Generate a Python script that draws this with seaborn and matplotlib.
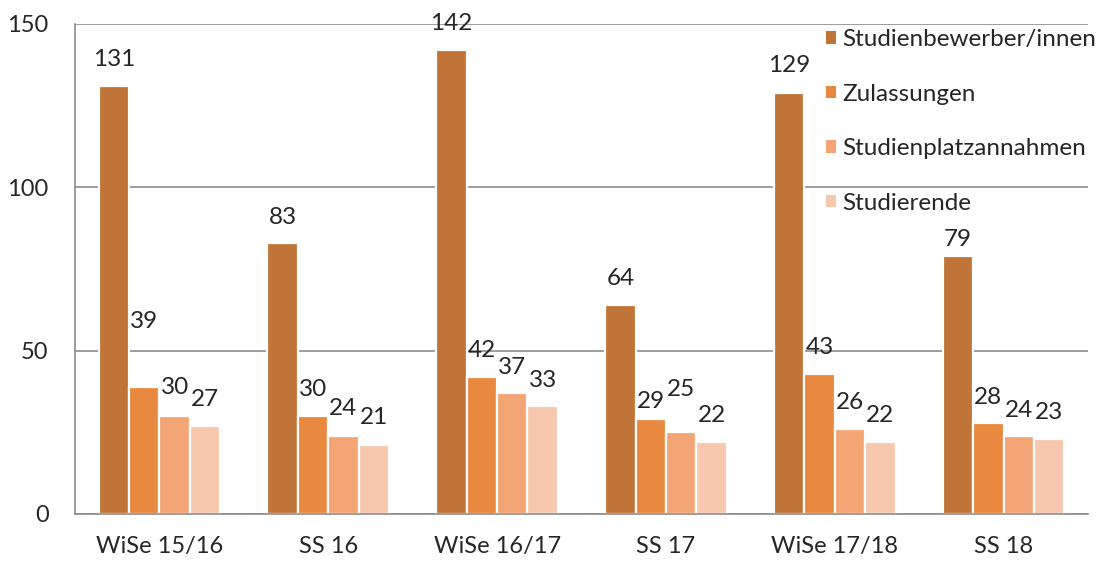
import numpy as np
import pandas as pd
import matplotlib
matplotlib.use("Agg")
import matplotlib.pyplot as plt
import seaborn as sns
from matplotlib.patches import Patch

# --- data -------------------------------------------------------------
semesters = ["WiSe 15/16", "SS 16", "WiSe 16/17", "SS 17", "WiSe 17/18", "SS 18"]
series = ["Studienbewerber/innen", "Zulassungen", "Studienplatzannahmen", "Studierende"]
bewerber = [131, 83, 142, 64, 129, 79]
zulassungen = [39, 30, 42, 29, 43, 28]
annahmen = [30, 24, 37, 25, 26, 24]
studierende = [27, 21, 33, 22, 22, 23]

# --- styling ----------------------------------------------------------
colors = ["#C17437", "#E98940", "#F3A575", "#F7C7AE"]
# vertical distance (data units) between bar top and the centre of its value label
label_lift = [
    [8.0, 7.9, 8.3, 8.2, 8.4, 4.9],
    [19.8, 8.0, 8.2, 5.3, 8.1, 7.8],
    [8.6, 8.4, 8.0, 13.0, 8.0, 7.8],
    [7.9, 8.4, 8.0, 8.3, 8.3, 8.2],
]

sns.set_theme(style="white")
plt.rcParams["font.family"] = ["Lato", "DejaVu Sans"]
text_color = "#262626"
axis_color = "#8C8C8C"
fs_label = 17.5
fs_tick = 17

values = [bewerber, zulassungen, annahmen, studierende]
df = pd.DataFrame({
    "Semester": np.repeat([semesters], len(series), axis=0).ravel(),
    "Reihe": np.repeat(series, len(semesters)),
    "Anzahl": np.concatenate(values),
})

fig = plt.figure(figsize=(11.08, 5.61), dpi=100)
ax = fig.add_axes([75 / 1108, 1 - 514 / 561, (1088 - 75) / 1108, (514 - 24) / 561])

sns.barplot(
    data=df, x="Semester", y="Anzahl", hue="Reihe",
    order=semesters, hue_order=series, palette=colors,
    width=0.72, edgecolor="white", linewidth=1.6, saturation=1,
    legend=False, ax=ax,
)

# value labels above each bar
for s_idx, cont in enumerate(ax.containers):
    for b_idx, bar in enumerate(cont):
        v = bar.get_height()
        ax.text(bar.get_x() + bar.get_width() / 2, v + label_lift[s_idx][b_idx],
                f"{v:.0f}", ha="center", va="center", fontsize=fs_label, color=text_color)

ax.set_ylim(0, 150)
ax.set_xlim(-0.5, len(semesters) - 0.5)
ax.set_yticks([0, 50, 100, 150])
ax.yaxis.grid(True, color=axis_color, linewidth=1.2)
ax.set_axisbelow(True)
ax.set_xlabel("")
ax.set_ylabel("")

for side in ["top", "right"]:
    ax.spines[side].set_visible(False)
for side in ["left", "bottom"]:
    ax.spines[side].set_color(axis_color)
    ax.spines[side].set_linewidth(1.2)

# category labels centred, tick marks at group boundaries
ax.set_xticks(np.arange(len(semesters)))
ax.set_xticklabels(semesters)
ax.set_xticks(np.arange(-0.5, len(semesters), 1.0), minor=True)
ax.tick_params(axis="x", which="major", length=0, pad=16, labelsize=fs_tick, labelcolor=text_color)
ax.tick_params(axis="x", which="minor", length=8, width=1.2, color=axis_color, direction="out")
ax.tick_params(axis="y", length=9, width=1.2, color=axis_color, direction="out",
               pad=10, labelsize=fs_tick, labelcolor=text_color)

handles = [Patch(facecolor=c, edgecolor="none") for c in colors]
fig.legend(handles, series, loc="upper left", bbox_to_anchor=(826 / 1108, 1 - 29 / 561),
           frameon=False, fontsize=fs_label, handlelength=0.42, handleheight=0.42,
           handletextpad=0.25, labelspacing=1.38, labelcolor=text_color,
           borderpad=0, borderaxespad=0)

fig.savefig("out.png", dpi=100, facecolor="white")
